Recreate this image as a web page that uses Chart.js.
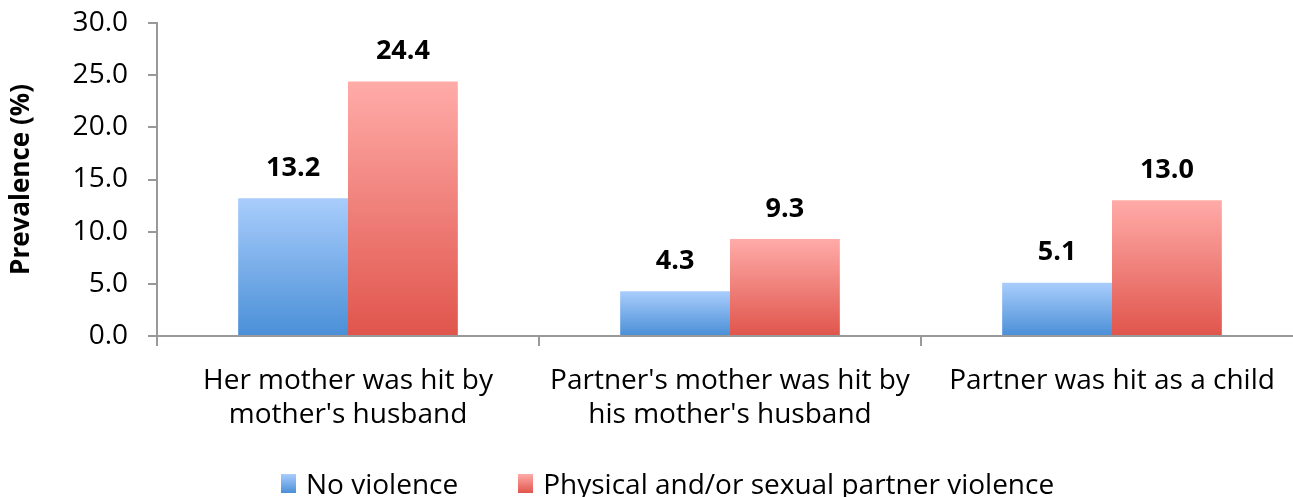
<!DOCTYPE html>
<html lang="en">
<head>
<meta charset="UTF-8">
<title>Prevalence</title>
<script src="https://cdn.jsdelivr.net/npm/chart.js"></script>
<style>
    body, html {
        margin: 0;
        padding: 0;
        background: #fff;
        overflow: hidden;
    }
    #wrap {
        position: relative;
        width: 1303px;
        height: 497px;
    }
    #chartContainer {
        width: 1303px;
        height: 497px;
    }
    #legend {
        position: absolute;
        left: 281px;
        top: 464px;
        font-family: 'Open Sans', sans-serif;
        font-size: 28px;
        color: #000;
        white-space: nowrap;
        display: flex;
        align-items: center;
    }
    #legend span.box {
        display: inline-block;
        width: 15px;
        height: 19px;
        margin-right: 10px;
    }
    #legend span.item {
        display: inline-flex;
        align-items: center;
        margin-right: 60px;
    }
</style>
</head>
<body>
<div id="wrap">
    <div id="chartContainer">
        <canvas id="prevChart"></canvas>
    </div>
    <div id="legend"></div>
</div>
<script>
    const categories = [
        ['Her mother was hit by', "mother's husband"],
        ["Partner's mother was hit by", "his mother's husband"],
        'Partner was hit as a child'
    ];
    const seriesNames = ['No violence', 'Physical and/or sexual partner violence'];
    const noViolence = [13.2, 4.3, 5.1];
    const partnerViolence = [24.4, 9.3, 13.0];

    const FONT = "'Open Sans', sans-serif";

    // light top -> darker bottom, like the Excel gradient fill
    const gradColors = [
        ['#a9cdfc', '#4a8fd7'],
        ['#ffaba8', '#e0554c']
    ];

    function barGradient(ctx) {
        const chart = ctx.chart;
        const y = chart.scales.y;
        const pair = gradColors[ctx.datasetIndex];
        if (!y || ctx.raw === undefined) return pair[1];
        const top = y.getPixelForValue(ctx.raw);
        const bottom = y.getPixelForValue(0);
        if (!isFinite(top) || !isFinite(bottom) || top === bottom) return pair[1];
        const g = chart.ctx.createLinearGradient(0, top, 0, bottom);
        g.addColorStop(0, pair[0]);
        g.addColorStop(1, pair[1]);
        return g;
    }

    const valueLabels = {
        id: 'valueLabels',
        afterDatasetsDraw(chart) {
            const ctx = chart.ctx;
            ctx.save();
            ctx.font = 'bold 27px ' + FONT;
            ctx.fillStyle = '#000';
            ctx.textAlign = 'center';
            ctx.textBaseline = 'middle';
            chart.data.datasets.forEach((ds, di) => {
                chart.getDatasetMeta(di).data.forEach((bar, i) => {
                    ctx.fillText(ds.data[i].toFixed(1), bar.x, bar.y - 30);
                });
            });
            ctx.restore();
        }
    };

    // html legend with gradient swatches
    const legendEl = document.getElementById('legend');
    seriesNames.forEach((name, i) => {
        const item = document.createElement('span');
        item.className = 'item';
        const box = document.createElement('span');
        box.className = 'box';
        box.style.background = `linear-gradient(${gradColors[i][0]}, ${gradColors[i][1]})`;
        item.appendChild(box);
        item.appendChild(document.createTextNode(name));
        legendEl.appendChild(item);
    });

    new Chart(document.getElementById('prevChart'), {
        type: 'bar',
        data: {
            labels: categories,
            datasets: [
                { label: seriesNames[0], data: noViolence, backgroundColor: barGradient },
                { label: seriesNames[1], data: partnerViolence, backgroundColor: barGradient }
            ]
        },
        options: {
            responsive: true,
            maintainAspectRatio: false,
            animation: false,
            categoryPercentage: 0.575,
            barPercentage: 1.0,
            layout: { padding: { top: 23, left: 0, right: 0, bottom: 61 } },
            plugins: {
                tooltip: { enabled: false },
                legend: { display: false }
            },
            scales: {
                x: {
                    afterFit: (axis) => { axis.height = 100; },
                    grid: {
                        offset: true,
                        drawOnChartArea: false,
                        tickLength: 10,
                        color: '#999',
                        lineWidth: 2
                    },
                    border: { color: '#999', width: 2 },
                    ticks: {
                        color: '#000',
                        font: { family: FONT, size: 28, lineHeight: 1.18 },
                        padding: 19,
                        maxRotation: 0,
                        autoSkip: false
                    }
                },
                y: {
                    min: 0,
                    max: 30,
                    afterFit: (axis) => {
                        axis.width = 157;
                        axis.paddingTop = 0;
                        axis.paddingBottom = 0;
                    },
                    grid: {
                        drawOnChartArea: false,
                        tickLength: 9,
                        color: '#999',
                        lineWidth: 2
                    },
                    border: { color: '#999', width: 2 },
                    ticks: {
                        stepSize: 5,
                        color: '#000',
                        padding: 20,
                        font: { family: FONT, size: 28 },
                        callback: (v) => v.toFixed(1)
                    },
                    title: {
                        display: true,
                        text: 'Prevalence (%)',
                        color: '#000',
                        font: { family: FONT, size: 26, weight: 'bold' },
                        padding: { top: 6, bottom: 0 }
                    }
                }
            }
        },
        plugins: [valueLabels]
    });
</script>
</body>
</html>
